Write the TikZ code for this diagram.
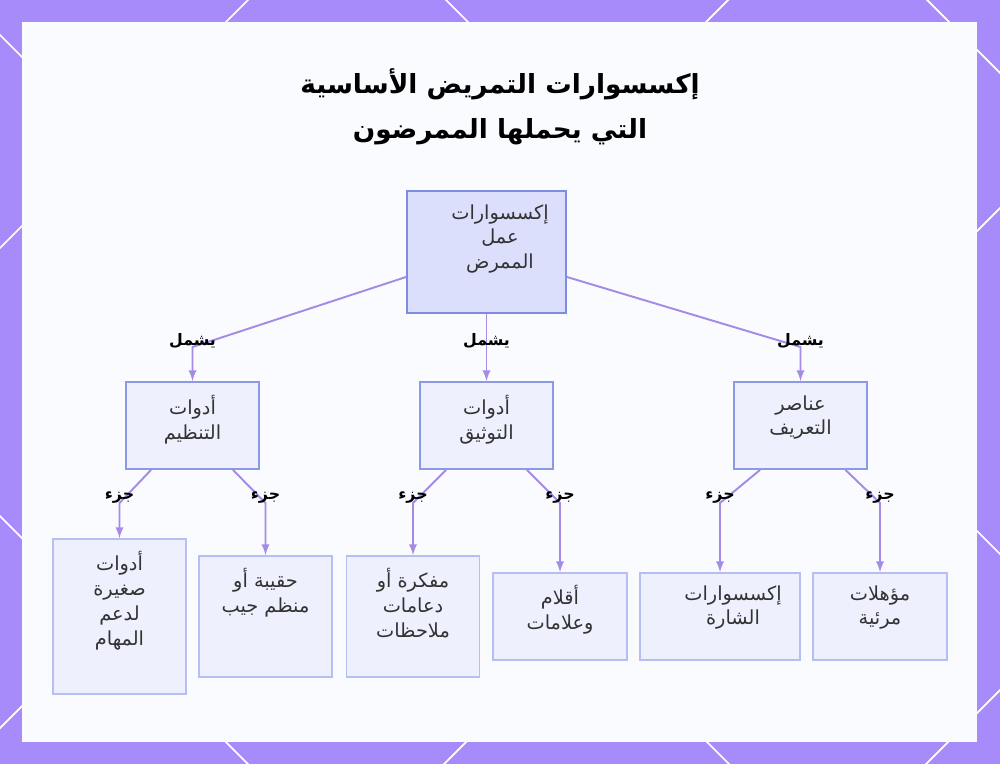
\documentclass[tikz,border=0pt]{standalone}
\usepackage{fontspec}
\usetikzlibrary{arrows.meta}
\newfontfamily\arabicfont[Script=Arabic]{DejaVu Sans}
\TeXXeTstate=1
\newcommand{\artxt}[1]{\beginR #1\endR}

\definecolor{framebg}{HTML}{A78BFA}
\definecolor{panelbg}{HTML}{FAFBFE}
\definecolor{rootfill}{HTML}{DCDFFC}
\definecolor{rootline}{HTML}{7E8CDF}
\definecolor{midfill}{HTML}{EEF0FD}
\definecolor{midline}{HTML}{8C9AE6}
\definecolor{leafline}{HTML}{B6BFF1}
\definecolor{linkcol}{HTML}{A48BE6}
\definecolor{textdark}{HTML}{333333}

\tikzset{
  rootbox/.style={draw=rootline, fill=rootfill, line width=1.1pt, inner sep=0pt, minimum width=3.18cm, minimum height=2.44cm},
  midbox/.style={draw=midline, fill=midfill, line width=1.1pt, inner sep=0pt, minimum width=2.66cm, minimum height=1.74cm},
  leafbox/.style={draw=leafline, fill=midfill, line width=1.1pt, inner sep=0pt, minimum width=2.66cm},
  boxtext/.style={anchor=north, align=center, inner sep=0pt, text=textdark, font=\arabicfont\fontsize{11}{14.2}\selectfont},
  linktext/.style={inner sep=0pt, text=black, font=\arabicfont\bfseries\fontsize{9}{10}\selectfont},
  link/.style={draw=linkcol, line width=1.1pt}
}

\begin{document}
\begin{tikzpicture}[x=0.02cm, y=-0.02cm, >=latex]
  % frame and panel
  \fill[framebg] (0,0) rectangle (1000,764);
  \begin{scope}
    \clip (0,0) rectangle (1000,764);
    \foreach \c in {248,728,1208,1690} {
      \draw[white, line width=1pt] (\c+100,-100) -- (\c-1100,1100);
    }
    \foreach \d in {-927,-446,35,516} {
      \draw[white, line width=1pt] (-100,\d-100) -- (1100,\d+1100);
    }
  \end{scope}
  \fill[panelbg] (22,22) rectangle (977,742);
  \useasboundingbox (0,0) rectangle (1000,764);

  % title
  \node[align=center, inner sep=0pt, text=black, font=\arabicfont\bfseries\fontsize{15}{25.5}\selectfont] (title) at (500,107)
    {\artxt{إكسسوارات التمريض الأساسية}\\\artxt{التي يحملها الممرضون}};

  % boxes
  \node[rootbox] (root) at (486.5,252) {};
  \node[midbox] (org) at (192.5,425.5) {};
  \node[midbox] (doc) at (486.5,425.5) {};
  \node[midbox] (ident) at (800.5,425.5) {};
  \node[leafbox, minimum height=3.10cm] (tools) at (119.5,616.5) {};
  \node[leafbox, minimum height=2.42cm] (bag) at (265.5,616.5) {};
  \node[leafbox, minimum height=2.42cm] (notes) at (413,616.5) {};
  \node[leafbox, minimum height=1.74cm, minimum width=2.68cm] (pens) at (560,616.5) {};
  \node[leafbox, minimum height=1.74cm, minimum width=3.2cm] (badge) at (720,616.5) {};
  \node[leafbox, minimum height=1.74cm, minimum width=2.68cm] (creds) at (880,616.5) {};

  % box texts
  \node[boxtext] (rootT) at (500,204) {\artxt{إكسسوارات}\\\artxt{عمل}\\\artxt{الممرض}};
  \node[boxtext] (orgT) at (192.5,395) {\artxt{أدوات}\\\artxt{التنظيم}};
  \node[boxtext] (docT) at (486.5,395) {\artxt{أدوات}\\\artxt{التوثيق}};
  \node[boxtext] (identT) at (800.5,395) {\artxt{عناصر}\\\artxt{التعريف}};
  \node[boxtext] (toolsT) at (119.5,551) {\artxt{أدوات}\\\artxt{صغيرة}\\\artxt{لدعم}\\\artxt{المهام}};
  \node[boxtext] (bagT) at (265.5,568) {\artxt{حقيبة أو}\\\artxt{منظم جيب}};
  \node[boxtext] (notesT) at (413,568) {\artxt{مفكرة أو}\\\artxt{دعامات}\\\artxt{ملاحظات}};
  \node[boxtext] (pensT) at (560,585) {\artxt{أقلام}\\\artxt{وعلامات}};
  \node[boxtext] (badgeT) at (733,585) {\artxt{إكسسوارات}\\\artxt{الشارة}};
  \node[boxtext] (credsT) at (880,585) {\artxt{مؤهلات}\\\artxt{مرئية}};

  % bends of the connectors
  \coordinate (k1) at (192.5,347);
  \coordinate (k2) at (486.5,347);
  \coordinate (k3) at (800.5,347);
  \coordinate (p1) at (119.5,503);
  \coordinate (p2) at (265.5,503);
  \coordinate (p3) at (413,503);
  \coordinate (p4) at (560,503);
  \coordinate (p5) at (720,503);
  \coordinate (p6) at (880,503);

  % connectors
  \draw[link, ->] ([yshift=-0.5cm]root.west) -- (k1) -- (org.north);
  \draw[link, ->] (root.south) -- (k2) -- (doc.north);
  \draw[link, ->] ([yshift=-0.5cm]root.east) -- (k3) -- (ident.north);
  \foreach \src/\dx/\bend/\dst in {org/-0.83/p1/tools, org/0.81/p2/bag, doc/-0.81/p3/notes,
                                  doc/0.81/p4/pens, ident/-0.81/p5/badge, ident/0.9/p6/creds} {
    \draw[link, ->] ([xshift=\dx cm]\src.south) -- (\bend) -- (\dst.north);
  }

  % connector labels
  \foreach \k in {k1,k2,k3} {
    \node[linktext] (\k L) at ([yshift=0.12cm]\k) {\artxt{يشمل}};
  }
  \foreach \p in {p1,p2,p3,p4,p5,p6} {
    \node[linktext] (\p L) at ([yshift=0.1cm]\p) {\artxt{جزء}};
  }
\end{tikzpicture}
\end{document}
